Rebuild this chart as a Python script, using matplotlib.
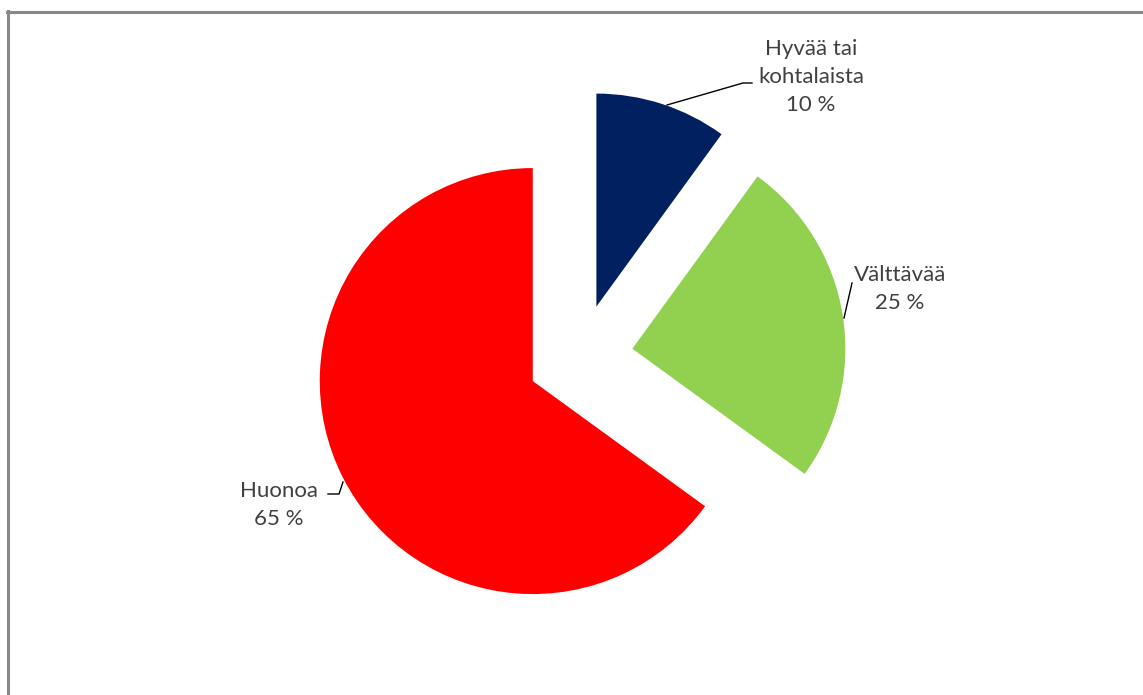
import matplotlib
matplotlib.use("Agg")
import matplotlib.pyplot as plt
from matplotlib.lines import Line2D

W, H = 1143, 695

categories = ["Hyvää tai\nkohtalaista", "Välttävää", "Huonoa"]
values = [10, 25, 65]
colors = ["#002060", "#92D050", "#FF0000"]
pct_labels = ["10 %", "25 %", "65 %"]

TEXT = "#404040"
plt.rcParams["font.family"] = ["Lato", "DejaVu Sans"]

fig = plt.figure(figsize=(W / 100, H / 100), dpi=100)
ax = fig.add_axes([0, 0, 1, 1])


def py(y):
    # pixel row (top-down) -> data y
    return H - y


ax.pie(values, colors=colors, startangle=90, counterclock=False,
       radius=213, center=(580, py(357)), explode=[53, 53, 53],
       wedgeprops=dict(linewidth=0))
# pie resets the limits, so set them afterwards
ax.set_xlim(0, W)
ax.set_ylim(0, H)
ax.set_aspect("equal")
ax.axis("off")

# data labels with leader lines (pixel positions)
label_pos = [(811, 77), (900, 289), (279, 505)]
leaders = [
    [(667, 105), (743, 83), (752, 83)],
    [(844, 318), (852, 283)],
    [(343, 482), (339, 494), (328, 494)],
]
for cat, pct, (lx, ly), pts in zip(categories, pct_labels, label_pos, leaders):
    ax.text(lx, py(ly), f"{cat}\n{pct}", ha="center", va="center",
            fontsize=16, color=TEXT, linespacing=1.5)
    ax.plot([p[0] for p in pts], [py(p[1]) for p in pts],
            color="#000000", linewidth=1)

# chart-area border (left and top edges visible)
fig.add_artist(Line2D([7.5 / W, 7.5 / W], [0, 1 - 11 / H],
                      transform=fig.transFigure, color="#888888", linewidth=2.2))
fig.add_artist(Line2D([6.5 / W, 1], [1 - 12 / H, 1 - 12 / H],
                      transform=fig.transFigure, color="#888888", linewidth=2.2))

fig.savefig("out.png", dpi=100)
